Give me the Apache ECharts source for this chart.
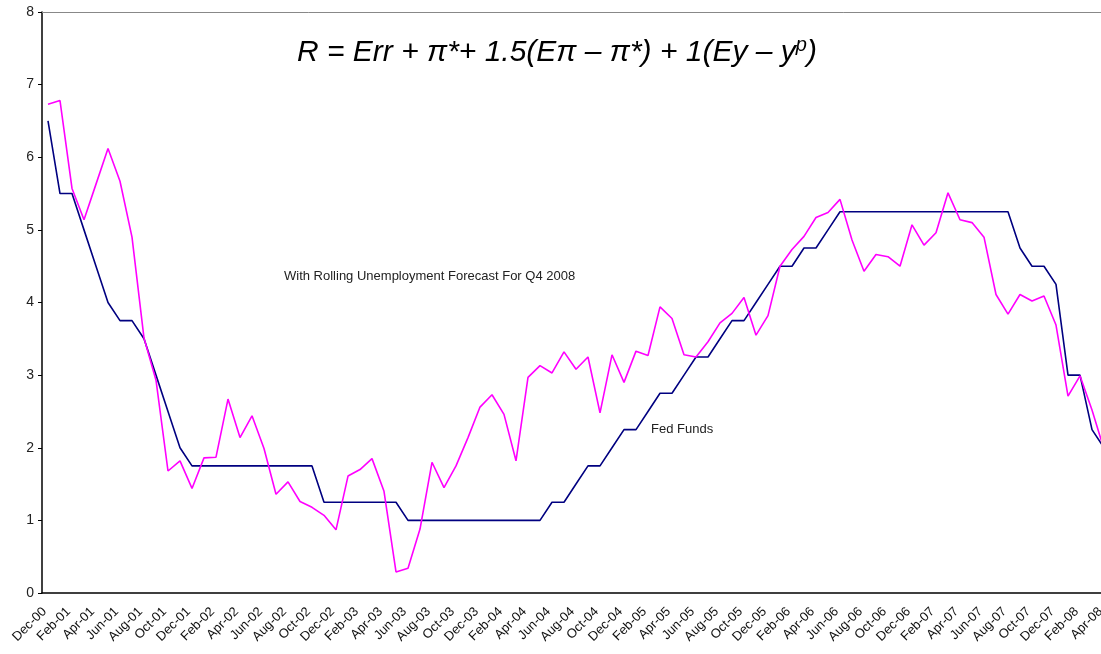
<!DOCTYPE html>
<html>
<head>
<meta charset="utf-8">
<script src="https://cdn.jsdelivr.net/npm/echarts@6/dist/echarts.min.js"></script>
<style>
  html, body { margin: 0; padding: 0; background: #fff; overflow: hidden; }
  /* the original plot runs a few px past the right edge, so the canvas is wider than the window */
  #chart { width: 1110px; height: 654px; }
</style>
</head>
<body>
<div id="chart"></div>
<script>
// months, Dec-00 .. Apr-08
const months = [
  'Dec-00',
  'Jan-01', 'Feb-01', 'Mar-01', 'Apr-01', 'May-01', 'Jun-01', 'Jul-01', 'Aug-01', 'Sep-01', 'Oct-01', 'Nov-01', 'Dec-01',
  'Jan-02', 'Feb-02', 'Mar-02', 'Apr-02', 'May-02', 'Jun-02', 'Jul-02', 'Aug-02', 'Sep-02', 'Oct-02', 'Nov-02', 'Dec-02',
  'Jan-03', 'Feb-03', 'Mar-03', 'Apr-03', 'May-03', 'Jun-03', 'Jul-03', 'Aug-03', 'Sep-03', 'Oct-03', 'Nov-03', 'Dec-03',
  'Jan-04', 'Feb-04', 'Mar-04', 'Apr-04', 'May-04', 'Jun-04', 'Jul-04', 'Aug-04', 'Sep-04', 'Oct-04', 'Nov-04', 'Dec-04',
  'Jan-05', 'Feb-05', 'Mar-05', 'Apr-05', 'May-05', 'Jun-05', 'Jul-05', 'Aug-05', 'Sep-05', 'Oct-05', 'Nov-05', 'Dec-05',
  'Jan-06', 'Feb-06', 'Mar-06', 'Apr-06', 'May-06', 'Jun-06', 'Jul-06', 'Aug-06', 'Sep-06', 'Oct-06', 'Nov-06', 'Dec-06',
  'Jan-07', 'Feb-07', 'Mar-07', 'Apr-07', 'May-07', 'Jun-07', 'Jul-07', 'Aug-07', 'Sep-07', 'Oct-07', 'Nov-07', 'Dec-07',
  'Jan-08', 'Feb-08', 'Mar-08', 'Apr-08'
]

// fed funds target
const fedFunds = [
  6.5,
  5.5, 5.5, 5.0, 4.5, 4.0, 3.75, 3.75, 3.5, 3.0, 2.5, 2.0, 1.75,
  1.75, 1.75, 1.75, 1.75, 1.75, 1.75, 1.75, 1.75, 1.75, 1.75, 1.25, 1.25,
  1.25, 1.25, 1.25, 1.25, 1.25, 1.0, 1.0, 1.0, 1.0, 1.0, 1.0, 1.0,
  1.0, 1.0, 1.0, 1.0, 1.0, 1.25, 1.25, 1.5, 1.75, 1.75, 2.0, 2.25,
  2.25, 2.5, 2.75, 2.75, 3.0, 3.25, 3.25, 3.5, 3.75, 3.75, 4.0, 4.25,
  4.5, 4.5, 4.75, 4.75, 5.0, 5.25, 5.25, 5.25, 5.25, 5.25, 5.25, 5.25,
  5.25, 5.25, 5.25, 5.25, 5.25, 5.25, 5.25, 5.25, 4.75, 4.5, 4.5, 4.25,
  3.0, 3.0, 2.25, 2.0
]

// taylor rule with rolling unemployment forecast
const taylorRule = [
  6.73,
  6.78, 5.57, 5.14, 5.63, 6.12, 5.67, 4.90, 3.51, 2.93, 1.68, 1.82, 1.44,
  1.86, 1.87, 2.67, 2.14, 2.44, 1.99, 1.36, 1.53, 1.26, 1.18, 1.07, 0.87,
  1.61, 1.70, 1.85, 1.40, 0.29, 0.34, 0.88, 1.80, 1.45, 1.75, 2.14, 2.56,
  2.73, 2.46, 1.82, 2.97, 3.13, 3.03, 3.32, 3.08, 3.25, 2.48, 3.28, 2.90,
  3.33, 3.27, 3.94, 3.78, 3.28, 3.25, 3.46, 3.72, 3.85, 4.07, 3.55, 3.82,
  4.50, 4.73, 4.91, 5.17, 5.24, 5.42, 4.86, 4.43, 4.66, 4.63, 4.50, 5.07,
  4.79, 4.96, 5.51, 5.14, 5.10, 4.90, 4.11, 3.84, 4.11, 4.02, 4.09, 3.69,
  2.71, 2.99, 2.52, 1.98
]

const FONT = '"Liberation Sans", Arial, sans-serif'

const chart = echarts.init(document.getElementById('chart'))

const option = {
  animation: false,
  backgroundColor: '#fff',
  title: {
    text: '{a|R = Err + π*+ 1.5(Eπ – π*) + 1(Ey – y}{b|p}{a|)}',
    left: 292,
    top: 30,
    textStyle: {
      rich: {
        a: { fontFamily: FONT, fontSize: 30, fontStyle: 'italic', fontWeight: 'normal', color: '#000', lineHeight: 36 },
        b: { fontFamily: FONT, fontSize: 20, fontStyle: 'italic', fontWeight: 'normal', color: '#000', verticalAlign: 'top', lineHeight: 36, padding: [0, 0, 8, 0] }
      }
    }
  },
  graphic: [
    {
      type: 'text', left: 284, top: 270,
      style: { text: 'With Rolling Unemployment Forecast For Q4 2008', font: '13px ' + FONT, fill: '#222' }
    },
    {
      type: 'text', left: 651, top: 423,
      style: { text: 'Fed Funds', font: '13px ' + FONT, fill: '#222' }
    }
  ],
  grid: { left: 42, top: 12, right: 0, bottom: 61 },
  xAxis: [
    {
      type: 'category',
      data: months,
      boundaryGap: true,
      axisLine: { lineStyle: { color: '#000', width: 1.5 } },
      axisTick: { interval: 1, length: 4, lineStyle: { color: '#000' } },
      axisLabel: {
        interval: 1, rotate: 45, margin: 13,
        padding: [0, 5, 0, 0],
        fontFamily: FONT, fontSize: 13, color: '#111'
      },
      splitLine: { show: false }
    },
    {
      type: 'category',
      data: months,
      position: 'top',
      axisLine: { lineStyle: { color: '#888', width: 1 } },
      axisTick: { show: false },
      axisLabel: { show: false }
    }
  ],
  yAxis: {
    type: 'value',
    min: 0, max: 8, interval: 1,
    axisLine: { show: true, lineStyle: { color: '#000', width: 1.5 } },
    axisTick: { show: true, length: 4, lineStyle: { color: '#000' } },
    axisLabel: { margin: 8, fontFamily: FONT, fontSize: 14, color: '#222' },
    splitLine: { show: false }
  },
  series: [
    {
      name: 'Fed Funds',
      type: 'line',
      data: fedFunds,
      symbol: 'none',
      lineStyle: { color: '#000080', width: 1.6 },
      z: 2
    },
    {
      name: 'Rule',
      type: 'line',
      data: taylorRule,
      symbol: 'none',
      lineStyle: { color: '#ff00ff', width: 1.6 },
      z: 3
    }
  ]
}

chart.setOption(option)
</script>
</body>
</html>
